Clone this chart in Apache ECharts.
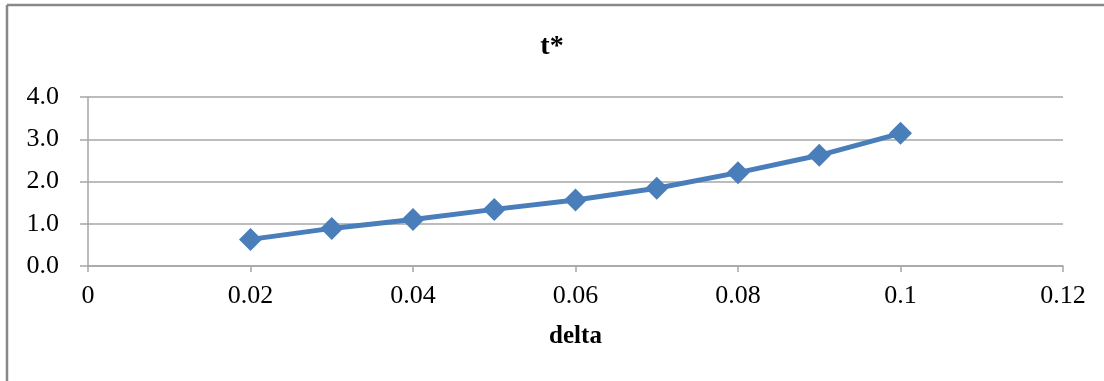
<!DOCTYPE html>
<html>
<head>
<meta charset="utf-8">
<script src="https://cdn.jsdelivr.net/npm/echarts@6/dist/echarts.min.js"></script>
<style>
  html, body { margin: 0; padding: 0; background: #ffffff; }
  #chart { width: 1104px; height: 381px; }
</style>
</head>
<body>
<div id="chart"></div>
<script>
// delta values and the resulting t*
const deltaValues = [0.02, 0.03, 0.04, 0.05, 0.06, 0.07, 0.08, 0.09, 0.1];
const tStarValues = [0.63, 0.89, 1.10, 1.34, 1.56, 1.84, 2.21, 2.62, 3.14];

const titleText = 't*';
const xAxisName = 'delta';

const serif = '"Liberation Serif", "Times New Roman", serif';
const gridColor = '#a6a6a6';
const lineColor = '#4a7ebb';

const points = deltaValues.map((d, i) => [d, tStarValues[i]]);

const chart = echarts.init(document.getElementById('chart'));
chart.setOption({
  animation: false,
  backgroundColor: '#ffffff',
  title: {
    text: titleText,
    left: 'center',
    top: 28,
    textStyle: { fontFamily: serif, fontSize: 28, fontWeight: 'bold', color: '#000' }
  },
  graphic: [
    { type: 'line', shape: { x1: 7, y1: 5, x2: 1104, y2: 5 }, style: { stroke: '#888888', lineWidth: 2.5 } },
    { type: 'line', shape: { x1: 7, y1: 5, x2: 7, y2: 381 }, style: { stroke: '#888888', lineWidth: 2.5 } }
  ],
  grid: { left: 88, right: 41, top: 97, bottom: 115 },
  xAxis: {
    type: 'value',
    min: 0,
    max: 0.12,
    interval: 0.02,
    name: xAxisName,
    nameLocation: 'middle',
    nameGap: 58,
    nameTextStyle: { fontFamily: serif, fontSize: 25, fontWeight: 'bold', color: '#000' },
    axisLine: { show: true, lineStyle: { color: gridColor, width: 1.5 } },
    axisTick: { show: true, length: 6, lineStyle: { color: gridColor, width: 1.5 } },
    axisLabel: {
      margin: 17,
      fontFamily: serif,
      fontSize: 26,
      color: '#000',
      formatter: v => String(Math.round(v * 100) / 100)
    },
    splitLine: { show: false }
  },
  yAxis: {
    type: 'value',
    min: 0,
    max: 4,
    interval: 1,
    axisLine: { show: true, lineStyle: { color: gridColor, width: 1.5 } },
    axisTick: { show: true, length: 8, lineStyle: { color: gridColor, width: 1.5 } },
    axisLabel: {
      margin: 29,
      fontFamily: serif,
      fontSize: 26,
      color: '#000',
      formatter: v => v.toFixed(1)
    },
    splitLine: { show: true, lineStyle: { color: gridColor, width: 1.5 } }
  },
  series: [{
    type: 'line',
    data: points,
    symbol: 'diamond',
    symbolSize: 23,
    lineStyle: { color: lineColor, width: 5 },
    itemStyle: { color: lineColor },
    silent: true
  }]
});
</script>
</body>
</html>
